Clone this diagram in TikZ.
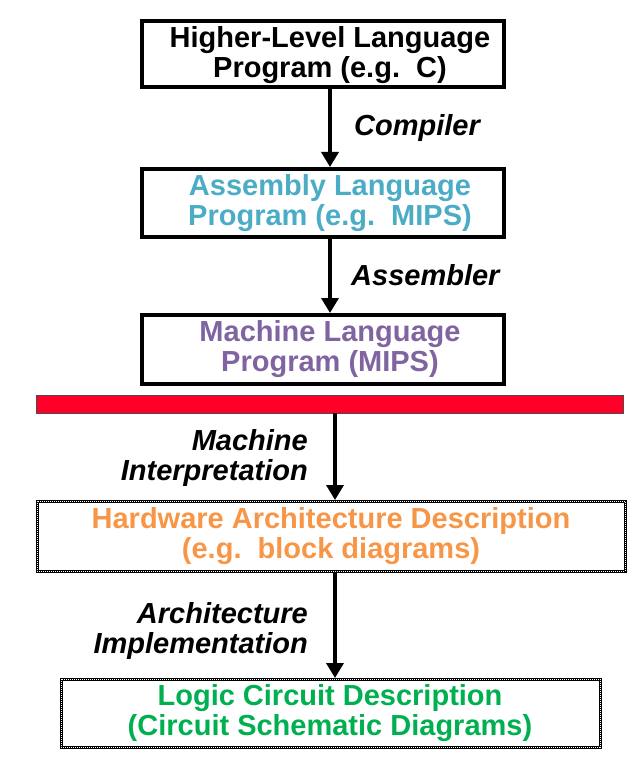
\documentclass[tikz,border=0pt]{standalone}
\usepackage{fontspec}
\setmainfont{Liberation Sans}
\usetikzlibrary{arrows.meta}
\definecolor{cAsm}{RGB}{75,172,198}
\definecolor{cMach}{RGB}{128,100,162}
\definecolor{cHw}{RGB}{247,150,70}
\definecolor{cLog}{RGB}{0,176,80}
\definecolor{cBar}{RGB}{255,0,40}
\begin{document}
\begin{tikzpicture}[x=1pt,y=-1pt,
  boxtext/.style={font=\fontsize{29}{30}\selectfont\bfseries, align=center},
  lbl/.style={font=\fontsize{29}{30}\selectfont\bfseries\itshape},
  conn/.style={line width=3.5pt, -{Triangle[width=17pt,length=15pt]}},
  solidbox/.style={draw=black, line width=4pt},
  chainbox/.style={draw=black, line width=3pt}]
\useasboundingbox (0,0) rectangle (639,775);
% boxes
\draw[solidbox] (142,21) rectangle (504,87);
\node[boxtext] (b1) at (330,55) {Higher-Level Language\\Program (e.g.\ \ C)};
\coordinate (b1s) at (330,88);
\draw[solidbox] (142,169) rectangle (504,237);
\node[boxtext, text=cAsm] (b2) at (330,203) {Assembly Language\\Program (e.g.\ \ MIPS)};
\coordinate (b2n) at (330,167);
\coordinate (b2s) at (330,238);
\draw[solidbox] (142,315) rectangle (504,384);
\node[boxtext, text=cMach] (b3) at (330,349) {Machine Language\\Program (MIPS)};
\coordinate (b3n) at (330,313);
% red bar
\draw[fill=cBar, draw=black!70, line width=1pt] (36,395) rectangle (623,413);
\coordinate (bars) at (335,413);
% dotted boxes
\draw[chainbox] (37,501) rectangle (625,571);
\draw[white, line width=1pt, densely dotted] (37,501) rectangle (625,571);
\node[boxtext, text=cHw] (b4) at (331,536) {Hardware Architecture Description\\(e.g.\ \ block diagrams)};
\coordinate (b4n) at (335,500);
\coordinate (b4s) at (335,572);
\draw[chainbox] (61,679) rectangle (600,747);
\draw[white, line width=1pt, densely dotted] (61,679) rectangle (600,747);
\node[boxtext, text=cLog] (b5) at (330,713) {Logic Circuit Description\\(Circuit Schematic Diagrams)};
\coordinate (b5n) at (335,678);
% arrows
\draw[conn] (b1s) -- (b2n);
\draw[conn] (b2s) -- (b3n);
\draw[conn] (bars) -- (b4n);
\draw[conn] (b4s) -- (b5n);
% labels
\node[lbl, anchor=west, inner sep=0pt] (l1) at (354,128) {Compiler};
\node[lbl, anchor=west, inner sep=0pt] (l2) at (351,275) {Assembler};
\node[lbl, anchor=east, align=right, inner sep=0pt] (l3) at (308,458) {Machine\\Interpretation};
\node[lbl, anchor=east, align=right, inner sep=0pt] (l4) at (308,631) {Architecture\\Implementation};
\end{tikzpicture}
\end{document}
